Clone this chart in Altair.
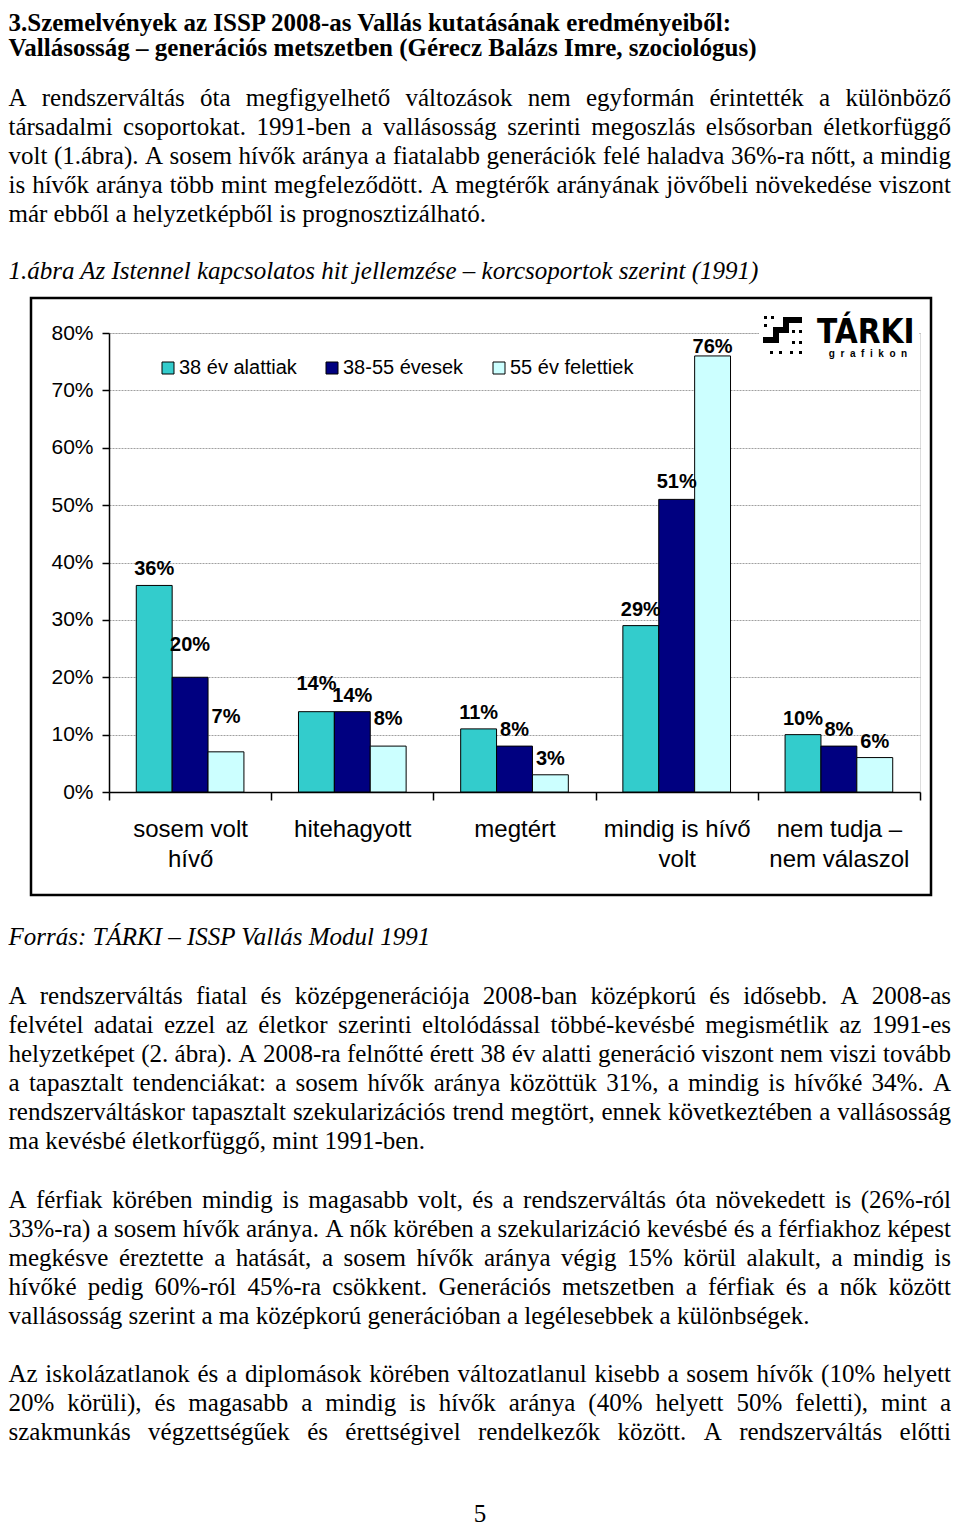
import unicodedata
import altair as alt
import pandas as pd

# ---------------- chart data ----------------
CATEGORIES = ["sosem volt hívő", "hitehagyott", "megtért", "mindig is hívő volt", "nem tudja – nem válaszol"]
CATEGORY_LINES = [["sosem volt", "hívő"], ["hitehagyott"], ["megtért"], ["mindig is hívő", "volt"], ["nem tudja –", "nem válaszol"]]
GROUPS = ["38 év alattiak", "38-55 évesek", "55 év felettiek"]
UNDER_38 = [36, 14, 11, 29, 10]
AGED_38_55 = [20, 14, 8, 51, 8]
OVER_55 = [7, 8, 3, 76, 6]
Y_TICKS = [0, 10, 20, 30, 40, 50, 60, 70, 80]
COLORS = ["#33CCCC", "#000080", "#CCFFFF"]

# ---------------- page text ----------------
HEADING = [
    "3.Szemelvények az ISSP 2008-as Vallás kutatásának eredményeiből:",
    "Vallásosság – generációs metszetben (Gérecz Balázs Imre, szociológus)",
]
PARA_1 = [
    "A rendszerváltás óta megfigyelhető változások nem egyformán érintették a különböző",
    "társadalmi csoportokat. 1991-ben a vallásosság szerinti megoszlás elsősorban életkorfüggő",
    "volt (1.ábra). A sosem hívők aránya a fiatalabb generációk felé haladva 36%-ra nőtt, a mindig",
    "is hívők aránya több mint megfeleződött. A megtérők arányának jövőbeli növekedése viszont",
    "már ebből a helyzetképből is prognosztizálható.",
]
CAPTION = "1.ábra Az Istennel kapcsolatos hit jellemzése – korcsoportok szerint (1991)"
SOURCE = "Forrás: TÁRKI – ISSP Vallás Modul 1991"
PARA_2 = [
    "A rendszerváltás fiatal és középgenerációja 2008-ban középkorú és idősebb. A 2008-as",
    "felvétel adatai ezzel az életkor szerinti eltolódással többé-kevésbé megismétlik az 1991-es",
    "helyzetképet (2. ábra). A 2008-ra felnőtté érett 38 év alatti generáció viszont nem viszi tovább",
    "a tapasztalt tendenciákat: a sosem hívők aránya közöttük 31%, a mindig is hívőké 34%. A",
    "rendszerváltáskor tapasztalt szekularizációs trend megtört, ennek következtében a vallásosság",
    "ma kevésbé életkorfüggő, mint 1991-ben.",
]
PARA_3 = [
    "A férfiak körében mindig is magasabb volt, és a rendszerváltás óta növekedett is (26%-ról",
    "33%-ra) a sosem hívők aránya. A nők körében a szekularizáció kevésbé és a férfiakhoz képest",
    "megkésve éreztette a hatását, a sosem hívők aránya végig 15% körül alakult, a mindig is",
    "hívőké pedig 60%-ról 45%-ra csökkent. Generációs metszetben a férfiak és a nők között",
    "vallásosság szerint a ma középkorú generációban a legélesebbek a különbségek.",
]
PARA_4 = [
    "Az iskolázatlanok és a diplomások körében változatlanul kisebb a sosem hívők (10% helyett",
    "20% körüli), és magasabb a mindig is hívők aránya (40% helyett 50% feletti), mint a",
    "szakmunkás végzettségűek és érettségivel rendelkezők között. A rendszerváltás előtti",
]
PAGE_NO = "5"

# ---------------- layout (page pixels) ----------------
M = 8
PLOT_X0, PLOT_Y0 = 109, 333
PLOT_W, PLOT_H = 811, 459
TOTAL_W, TOTAL_H = 944, 1521
PAD_L, PAD_T = PLOT_X0 - M, PLOT_Y0 - M
PAD_R = TOTAL_W - PAD_L - PLOT_W
PAD_B = TOTAL_H - PAD_T - PLOT_H


def px(x):
    return x - PLOT_X0


def py(y):
    return y - PLOT_Y0


SERIF = "Liberation Serif"
SANS = "Liberation Sans"
BODY = 25
LINE = 29
LEFT, RIGHT = 8.5, 951

TIMES = {" ": 250, "a": 444, "b": 500, "c": 444, "d": 500, "e": 444, "f": 333, "g": 500, "h": 500,
         "i": 278, "j": 278, "k": 500, "l": 278, "m": 778, "n": 500, "o": 500, "p": 500, "q": 500,
         "r": 333, "s": 389, "t": 278, "u": 500, "v": 500, "w": 722, "x": 500, "y": 500, "z": 444,
         "A": 722, "B": 667, "C": 667, "D": 722, "E": 611, "F": 556, "G": 722, "H": 722, "I": 333,
         "J": 389, "K": 722, "L": 611, "M": 889, "N": 722, "O": 722, "P": 556, "Q": 722, "R": 667,
         "S": 556, "T": 611, "U": 722, "V": 722, "W": 944, "X": 722, "Y": 722, "Z": 611,
         ".": 250, ",": 250, ":": 278, ";": 278, "-": 333, "(": 333, ")": 333, "%": 833, "–": 500}


def tw(s):
    w = 0
    for ch in s:
        base = unicodedata.normalize("NFD", ch)[0]
        w += TIMES.get(base, 500)
    return w * BODY / 1000


rows = []


def add_line(text, base, style, justify=False, x=LEFT):
    if not justify:
        rows.append(dict(t=text, x=px(x), y=py(base), style=style))
        return
    words = text.split(" ")
    widths = [tw(w) for w in words]
    gap = (RIGHT - LEFT - sum(widths)) / (len(words) - 1)
    cx = LEFT
    for i, (w, wd) in enumerate(zip(words, widths)):
        if i == len(words) - 1:
            cx = RIGHT - wd
        rows.append(dict(t=w, x=px(cx), y=py(base), style=style))
        cx += wd + gap


def add_para(lines, base, justify_last=False):
    for i, ln in enumerate(lines):
        add_line(ln, base + i * LINE, "body", justify=(i < len(lines) - 1) or justify_last)


add_line(HEADING[0], 31, "bold")
add_line(HEADING[1], 56, "bold")
add_para(PARA_1, 106)
add_line(CAPTION, 279, "italic")
add_line(SOURCE, 945, "italic")
add_para(PARA_2, 1004)
add_para(PARA_3, 1208)
add_para(PARA_4, 1382, justify_last=True)
add_line(PAGE_NO, 1522, "center", x=480)
text_df = pd.DataFrame(rows)


def text_layer(style, **kw):
    opts = dict(align="left", baseline="alphabetic", color="black", font=SERIF, fontSize=BODY)
    opts.update(kw)
    return (alt.Chart(text_df).transform_filter(alt.datum.style == style)
            .mark_text(**opts)
            .encode(x=alt.X("x:Q", scale=None, axis=None),
                    y=alt.Y("y:Q", scale=None, axis=None),
                    text="t:N"))


# ---------------- bar data ----------------
LABEL_NUDGE = [[0, -12, 0, 0, 0], [-16, 0, 0, -1, 0], [-19, -11, 0, 7, 0]]
bar_rows = []
for gi, (g, vals) in enumerate(zip(GROUPS, [UNDER_38, AGED_38_55, OVER_55])):
    for ci, c in enumerate(CATEGORIES):
        bar_rows.append(dict(category=c, group=g, value=vals[ci], label=f"{vals[ci]}%",
                             nudge=LABEL_NUDGE[gi][ci]))
bars_df = pd.DataFrame(bar_rows)

label_expr = " : ".join(
    f"datum.value == '{c}' ? [{', '.join(repr(s) for s in lines)}]" for c, lines in zip(CATEGORIES, CATEGORY_LINES)
) + " : datum.label"

x_enc = alt.X("category:N", sort=CATEGORIES,
              scale=alt.Scale(domain=CATEGORIES, paddingInner=0, paddingOuter=0),
              axis=alt.Axis(title=None, labelExpr=label_expr, labelAngle=0, labelFont=SANS,
                            labelFontSize=24, labelColor="black", labelLineHeight=30,
                            labelPadding=17, tickBand="extent", tickSize=8, tickColor="black",
                            tickWidth=1.5, domainColor="black", domainWidth=1.5, labelLimit=400,
                            grid=False))
xo_enc = alt.XOffset("group:N", sort=GROUPS,
                     scale=alt.Scale(domain=GROUPS, paddingInner=0, paddingOuter=0.76))
y_enc = alt.Y("value:Q", scale=alt.Scale(domain=[0, 80], nice=False),
              axis=alt.Axis(title=None, values=Y_TICKS, labelExpr="datum.value + '%'",
                            grid=True, gridColor="#a0a0a0", gridDash=[2, 1], gridWidth=1,
                            tickSize=7, tickColor="black", tickWidth=1.5, domainColor="black",
                            domainWidth=1.5, labelFont=SANS, labelFontSize=21, labelPadding=9,
                            labelColor="black"))

bars = alt.Chart(bars_df).mark_bar(stroke="black", strokeWidth=1).encode(
    x=x_enc, xOffset=xo_enc, y=y_enc,
    color=alt.Color("group:N", sort=GROUPS, scale=alt.Scale(domain=GROUPS, range=COLORS),
                    legend=alt.Legend(title=None, orient="none", legendX=49, legendY=25,
                                      direction="horizontal", symbolType="square", symbolSize=144,
                                      symbolStrokeColor="black", symbolStrokeWidth=1,
                                      labelFont=SANS, labelFontSize=20, labelColor="black",
                                      columnPadding=25, padding=0, labelOffset=1)),
)

label_layers = []
for n in sorted(set(bars_df["nudge"])):
    label_layers.append(
        alt.Chart(bars_df).transform_filter(alt.datum.nudge == int(n)).mark_text(
            font=SANS, fontWeight="bold", fontSize=20, baseline="alphabetic",
            dy=-10 + int(n), color="black").encode(
            x=alt.X("category:N", sort=CATEGORIES), xOffset=alt.XOffset("group:N", sort=GROUPS),
            y="value:Q", text="label:N"))

one = pd.DataFrame({"k": [0]})
frame = alt.Chart(one).mark_rect(fillOpacity=0, stroke="black", strokeWidth=2.5).encode(
    x=alt.value(px(31)), x2=alt.value(px(931)), y=alt.value(py(298)), y2=alt.value(py(895)))

# TÁRKI logo (decoration)
logo_bg = alt.Chart(one).mark_rect(color="white").encode(
    x=alt.value(px(759)), x2=alt.value(px(919)), y=alt.value(py(309)), y2=alt.value(py(359)))
LOGO_BLOCKS = [(763, 337, 779, 343), (773, 327, 779, 343), (773, 327, 789, 333),
               (783, 317, 789, 333), (783, 317, 802, 323),
               (764, 316, 767, 319), (771, 316, 774, 319), (764, 324, 767, 327),
               (792, 330, 795, 333), (799, 330, 802, 333), (792, 341, 795, 344), (799, 341, 802, 344),
               (770, 351, 773, 354), (779, 351, 782, 354), (790, 351, 793, 354), (799, 351, 802, 354)]
logo_df = pd.DataFrame([dict(x=px(a), y=py(b), x2=px(c), y2=py(d)) for a, b, c, d in LOGO_BLOCKS])
logo_rects = alt.Chart(logo_df).mark_rect(color="black").encode(
    x=alt.X("x:Q", scale=None, axis=None), x2="x2:Q",
    y=alt.Y("y:Q", scale=None, axis=None), y2="y2:Q")
logo_text = alt.Chart(one).mark_text(text="TÁRKI", font="DejaVu Sans Condensed", fontWeight="bold",
                                     fontSize=33, align="left", baseline="alphabetic",
                                     color="black").encode(x=alt.value(px(817)), y=alt.value(py(343)))
logo_small = alt.Chart(one).mark_text(text="\u00a0\u00a0".join("grafikon"), font=SANS, fontWeight="bold",
                                      fontSize=10, align="center", baseline="alphabetic",
                                      color="black").encode(x=alt.value(px(868)), y=alt.value(py(357)))

chart = alt.layer(
    bars, *label_layers, frame, logo_bg, logo_rects, logo_text, logo_small,
    text_layer("bold", fontWeight="bold"),
    text_layer("body"),
    text_layer("italic", fontStyle="italic"),
    text_layer("center", align="center"),
).properties(
    width=PLOT_W, height=PLOT_H,
    autosize=alt.AutoSizeParams(type="none"),
    padding={"left": PAD_L, "top": PAD_T, "right": PAD_R, "bottom": PAD_B},
).configure_view(stroke="transparent").configure(background="white")

chart.save("out.html", embed_options={"renderer": "svg", "actions": False})
